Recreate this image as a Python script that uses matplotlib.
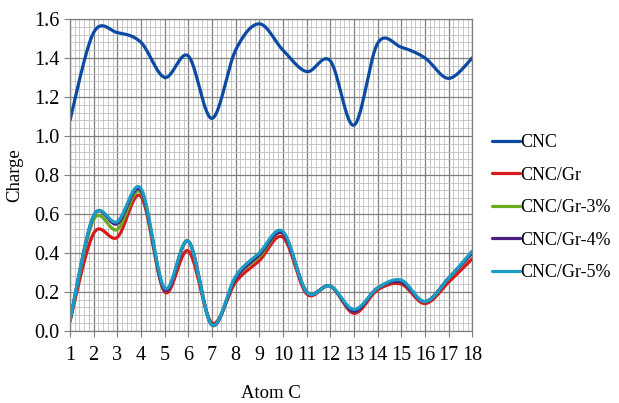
import numpy as np
import matplotlib
matplotlib.use("Agg")
from matplotlib import pyplot as plt
from matplotlib.ticker import MultipleLocator

# data
atoms = list(range(1, 19))
cnc = [1.08, 1.53, 1.53, 1.48, 1.30, 1.41, 1.09, 1.44, 1.575, 1.44, 1.33, 1.385, 1.055, 1.475, 1.455, 1.40, 1.295, 1.40]
cnc_gr = [0.05, 0.50, 0.48, 0.69, 0.20, 0.41, 0.04, 0.25, 0.36, 0.48, 0.19, 0.23, 0.09, 0.21, 0.24, 0.14, 0.25, 0.37]
cnc_gr3 = [0.05, 0.57, 0.52, 0.71, 0.21, 0.46, 0.03, 0.27, 0.38, 0.50, 0.20, 0.23, 0.10, 0.22, 0.25, 0.15, 0.27, 0.40]
cnc_gr4 = [0.05, 0.59, 0.55, 0.72, 0.21, 0.46, 0.03, 0.27, 0.39, 0.50, 0.20, 0.23, 0.10, 0.22, 0.25, 0.15, 0.27, 0.40]
cnc_gr5 = [0.05, 0.59, 0.56, 0.73, 0.22, 0.46, 0.03, 0.28, 0.40, 0.51, 0.20, 0.23, 0.11, 0.22, 0.26, 0.15, 0.27, 0.41]
labels = ["CNC", "CNC/Gr", "CNC/Gr-3%", "CNC/Gr-4%", "CNC/Gr-5%"]
colors = ["#0b4aa2", "#d7191c", "#6aaa1f", "#4b1f80", "#1a9cc4"]


def smooth(x, y, n=30):
    # excel style smoothed line (bezier through the points)
    x = np.asarray(x, float)
    y = np.asarray(y, float)
    px = np.concatenate([[x[0]], x, [x[-1]]])
    py = np.concatenate([[y[0]], y, [y[-1]]])
    xs, ys = [], []
    t = np.linspace(0, 1, n, endpoint=False)
    for i in range(1, len(px) - 2):
        for p, out in ((px, xs), (py, ys)):
            p0, p1, p2, p3 = p[i - 1], p[i], p[i + 1], p[i + 2]
            c1 = p1 + (p2 - p0) / 6
            c2 = p2 - (p3 - p1) / 6
            out.extend((1 - t) ** 3 * p1 + 3 * (1 - t) ** 2 * t * c1 + 3 * (1 - t) * t ** 2 * c2 + t ** 3 * p2)
    xs.append(x[-1])
    ys.append(y[-1])
    return np.array(xs), np.array(ys)


plt.rcParams["font.family"] = ["Liberation Serif", "DejaVu Serif"]

fig = plt.figure(figsize=(6.19, 4.03), dpi=100)
ax = fig.add_axes([0.113, 0.179, 0.65, 0.774])

for vals, lab, col in zip([cnc, cnc_gr, cnc_gr3, cnc_gr4, cnc_gr5], labels, colors):
    sx, sy = smooth(atoms, vals)
    ax.plot(sx, sy, color=col, lw=2.3, label=lab, solid_capstyle="round")

ax.set_xlim(1, 18)
ax.set_ylim(0, 1.6)
ax.xaxis.set_minor_locator(MultipleLocator(0.2))
ax.yaxis.set_minor_locator(MultipleLocator(0.04))
ax.set_yticks(np.arange(0, 1.61, 0.2))
ax.set_yticklabels([f"{v:.1f}" for v in np.arange(0, 1.61, 0.2)])
ax.set_xticks(atoms)
ax.grid(which="major", color="#7f7f7f", lw=0.9)
ax.grid(which="minor", color="#bfbfbf", lw=0.6)
ax.set_axisbelow(True)
ax.tick_params(which="major", labelsize=14.5, length=4, color="#7f7f7f")
ax.tick_params(which="minor", length=0)
ax.tick_params(axis="x", pad=7)
for s in ax.spines.values():
    s.set_color("#7f7f7f")
    s.set_linewidth(0.9)

ax.set_xlabel("Atom C", fontsize=13.5, labelpad=14)
ax.set_ylabel("Charge", fontsize=13.5, labelpad=8)

ax.legend(loc="center left", bbox_to_anchor=(1.008, 0.395), frameon=False, fontsize=13,
          handlelength=1.55, handletextpad=0.05, labelspacing=0.85)

fig.savefig("out.png", dpi=100)
